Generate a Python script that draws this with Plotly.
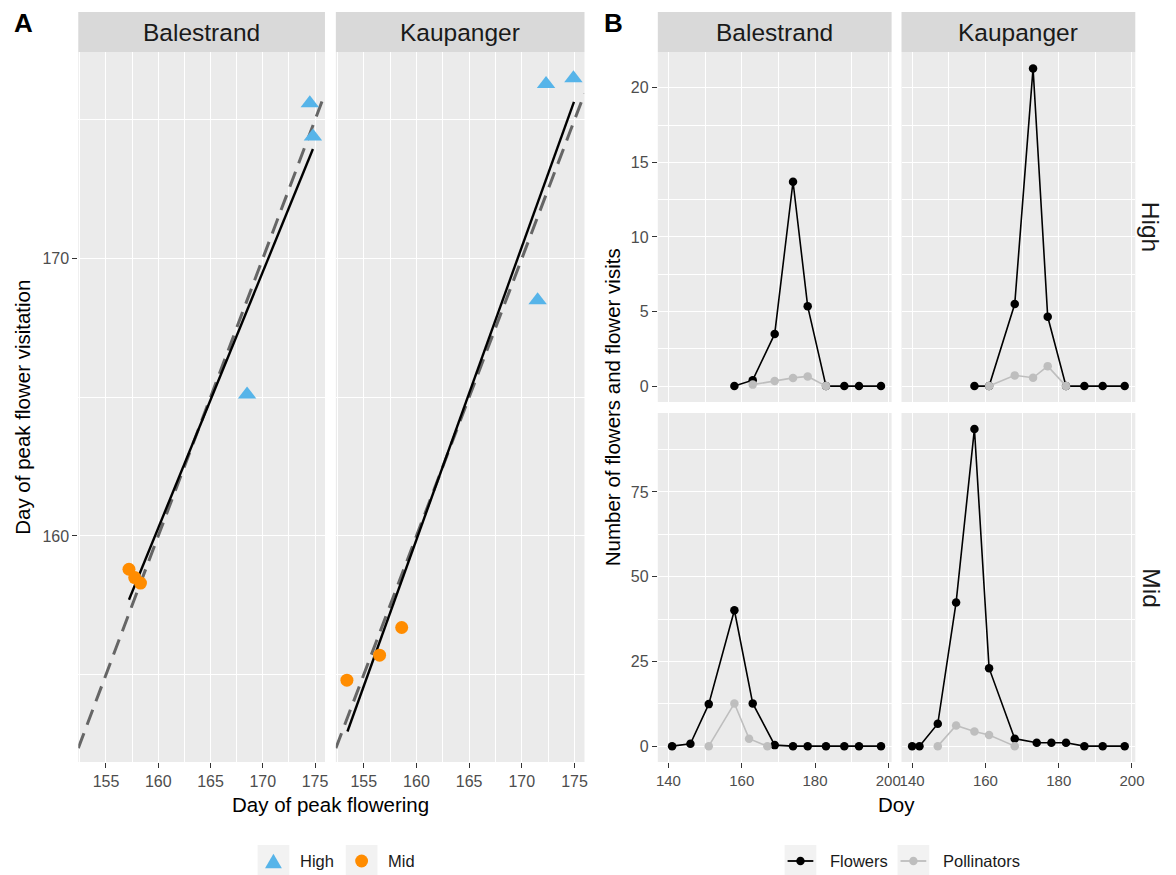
import plotly.graph_objects as go

# ---------------- data ----------------
# Panel A: day of peak flowering vs day of peak flower visitation
a_bal_high_x = [174.5, 174.8, 168.5]
a_bal_high_y = [175.6, 174.4, 165.1]
a_bal_mid_x = [157.2, 157.75, 158.3]
a_bal_mid_y = [158.8, 158.5, 158.3]
a_kau_high_x = [172.3, 174.9, 171.5]
a_kau_high_y = [176.3, 176.5, 168.5]
a_kau_mid_x = [153.4, 156.5, 158.6]
a_kau_mid_y = [154.8, 155.7, 156.7]
# fitted regression lines (endpoints)
a_bal_fit_x = [157.2, 174.8]
a_bal_fit_y = [157.7, 173.95]
a_kau_fit_x = [153.45, 174.95]
a_kau_fit_y = [152.95, 175.65]

# Panel B: number of flowers and flower visits per day
b_bal_high_fl_x = [158, 163, 169, 174, 178, 183, 188, 192, 198]
b_bal_high_fl_y = [0, 0.4, 3.5, 13.7, 5.35, 0, 0, 0, 0]
b_bal_high_po_x = [163, 169, 174, 178, 183]
b_bal_high_po_y = [0.1, 0.35, 0.55, 0.65, 0]
b_kau_high_fl_x = [157, 161, 168, 173, 177, 182, 187, 192, 198]
b_kau_high_fl_y = [0, 0, 5.5, 21.3, 4.65, 0, 0, 0, 0]
b_kau_high_po_x = [161, 168, 173, 177, 182]
b_kau_high_po_y = [0, 0.72, 0.56, 1.34, 0]
b_bal_mid_fl_x = [141, 146, 151, 158, 163, 169, 174, 178, 183, 188, 192, 198]
b_bal_mid_fl_y = [0, 0.7, 12.4, 40.1, 12.6, 0.3, 0, 0, 0, 0, 0, 0]
b_bal_mid_po_x = [151, 158, 162, 167]
b_bal_mid_po_y = [0, 12.6, 2.2, 0]
b_kau_mid_fl_x = [140, 142, 147, 152, 157, 161, 168, 174, 178, 182, 187, 192, 198]
b_kau_mid_fl_y = [0, 0, 6.6, 42.4, 93.6, 23.0, 2.2, 1.0, 1.0, 1.0, 0, 0, 0]
b_kau_mid_po_x = [147, 152, 157, 161, 168]
b_kau_mid_po_y = [0, 6.1, 4.3, 3.3, 0]

sites = ["Balestrand", "Kaupanger"]
rows = ["High", "Mid"]
a_x_ticks = [155, 160, 165, 170, 175]
a_x_minor = [152.5, 157.5, 162.5, 167.5, 172.5]
a_y_ticks = [160, 170]
a_y_minor = [155, 165, 175]
b_x_ticks = [140, 160, 180, 200]
b_x_minor = [150, 170, 190]
b_high_ticks = [0, 5, 10, 15, 20]
b_high_minor = [2.5, 7.5, 12.5, 17.5, 22.5]
b_mid_ticks = [0, 25, 50, 75]
b_mid_minor = [12.5, 37.5, 62.5, 87.5]

# ---------------- styling / layout ----------------
W, H = 1176, 875
FONT = "Liberation Sans, Arial, Helvetica, sans-serif"
BLUE = "#56B4E9"
ORANGE = "#FF8C00"
GREY_PT = "#BEBEBE"
PANEL_BG = "#EBEBEB"
STRIP_BG = "#D9D9D9"

A_XRANGE = [152.35, 175.95]
A_YRANGE = [151.85, 177.45]
B_XRANGE = [137.1, 200.9]
B_HIGH_RANGE = [-1.065, 22.4]
B_MID_RANGE = [-4.68, 98.3]


def fx(p):
    return p / W


def fy(p):
    return 1 - p / H


A_BAL_X = (77, 326)
A_KAU_X = (337, 588)
A_Y = (52, 762)
B_BAL_X = (662, 898)
B_KAU_X = (908, 1144)
B_HIGH_Y = (52, 402)
B_MID_Y = (413, 762)


def xdom(d):
    return [fx(d[0]), fx(d[1])]


def ydom(d):
    return [fy(d[1]), fy(d[0])]


def axis(dom, rng, anchor, ticks, minor, labels, fsize=16):
    return dict(
        domain=dom, range=rng, anchor=anchor,
        tickmode="array", tickvals=ticks,
        showticklabels=labels, ticks="outside" if labels else "",
        ticklen=5, tickwidth=1.1, tickcolor="#333333",
        tickfont=dict(family=FONT, size=fsize, color="#4D4D4D"),
        showgrid=True, gridcolor="white", gridwidth=1.4,
        minor=dict(tickvals=minor, showgrid=True, gridcolor="white", gridwidth=0.7, ticks=""),
        zeroline=False, showline=False, fixedrange=True,
    )


fig = go.Figure()

# ---- Panel A traces ----
a_panels = [
    ("x", "y", a_bal_fit_x, a_bal_fit_y, a_bal_high_x, a_bal_high_y, a_bal_mid_x, a_bal_mid_y),
    ("x2", "y2", a_kau_fit_x, a_kau_fit_y, a_kau_high_x, a_kau_high_y, a_kau_mid_x, a_kau_mid_y),
]
for xa, ya, fxs, fys, hx, hy, mx, my in a_panels:
    # 1:1 reference line across the full panel
    fig.add_trace(go.Scatter(x=A_XRANGE, y=A_XRANGE, xaxis=xa, yaxis=ya, mode="lines",
                             line=dict(color="#666666", width=3, dash="16px,9px"),
                             showlegend=False, hoverinfo="skip"))
    fig.add_trace(go.Scatter(x=fxs, y=fys, xaxis=xa, yaxis=ya, mode="lines",
                             line=dict(color="black", width=2.4), showlegend=False))
    fig.add_trace(go.Scatter(x=hx, y=hy, xaxis=xa, yaxis=ya, mode="markers",
                             marker=dict(symbol="triangle-up", size=16, color=BLUE, line=dict(width=0)),
                             showlegend=False, name="High"))
    fig.add_trace(go.Scatter(x=mx, y=my, xaxis=xa, yaxis=ya, mode="markers",
                             marker=dict(symbol="circle", size=13, color=ORANGE, line=dict(width=0)),
                             showlegend=False, name="Mid"))

# ---- Panel B traces ----
b_panels = [
    ("x3", "y3", b_bal_high_fl_x, b_bal_high_fl_y, b_bal_high_po_x, b_bal_high_po_y),
    ("x4", "y4", b_kau_high_fl_x, b_kau_high_fl_y, b_kau_high_po_x, b_kau_high_po_y),
    ("x5", "y5", b_bal_mid_fl_x, b_bal_mid_fl_y, b_bal_mid_po_x, b_bal_mid_po_y),
    ("x6", "y6", b_kau_mid_fl_x, b_kau_mid_fl_y, b_kau_mid_po_x, b_kau_mid_po_y),
]
for xa, ya, flx, fly, pox, poy in b_panels:
    fig.add_trace(go.Scatter(x=flx, y=fly, xaxis=xa, yaxis=ya, mode="lines+markers",
                             line=dict(color="black", width=1.6),
                             marker=dict(size=8.5, color="black"), showlegend=False, name="Flowers"))
    fig.add_trace(go.Scatter(x=pox, y=poy, xaxis=xa, yaxis=ya, mode="lines+markers",
                             line=dict(color=GREY_PT, width=1.6),
                             marker=dict(size=8.5, color=GREY_PT), showlegend=False, name="Pollinators"))

layout = dict(
    width=W, height=H, margin=dict(l=0, r=0, t=0, b=0),
    paper_bgcolor="white", plot_bgcolor=PANEL_BG,
    font=dict(family=FONT, color="black"),
    xaxis=axis(xdom(A_BAL_X), A_XRANGE, "y", a_x_ticks, a_x_minor, True),
    yaxis=axis(ydom(A_Y), A_YRANGE, "x", a_y_ticks, a_y_minor, True),
    xaxis2=axis(xdom(A_KAU_X), A_XRANGE, "y2", a_x_ticks, a_x_minor, True),
    yaxis2=axis(ydom(A_Y), A_YRANGE, "x2", a_y_ticks, a_y_minor, False),
    xaxis3=axis(xdom(B_BAL_X), B_XRANGE, "y3", b_x_ticks, b_x_minor, False),
    yaxis3=axis(ydom(B_HIGH_Y), B_HIGH_RANGE, "x3", b_high_ticks, b_high_minor, True),
    xaxis4=axis(xdom(B_KAU_X), B_XRANGE, "y4", b_x_ticks, b_x_minor, False),
    yaxis4=axis(ydom(B_HIGH_Y), B_HIGH_RANGE, "x4", b_high_ticks, b_high_minor, False),
    xaxis5=axis(xdom(B_BAL_X), B_XRANGE, "y5", b_x_ticks, b_x_minor, True, 15),
    yaxis5=axis(ydom(B_MID_Y), B_MID_RANGE, "x5", b_mid_ticks, b_mid_minor, True),
    xaxis6=axis(xdom(B_KAU_X), B_XRANGE, "y6", b_x_ticks, b_x_minor, True, 15),
    yaxis6=axis(ydom(B_MID_Y), B_MID_RANGE, "x6", b_mid_ticks, b_mid_minor, False),
    showlegend=False,
)
fig.update_layout(**layout)

shapes = []
ann = []

# strips (column facets)
for (x0, x1), label in [(A_BAL_X, sites[0]), (A_KAU_X, sites[1]), (B_BAL_X, sites[0]), (B_KAU_X, sites[1])]:
    shapes.append(dict(type="rect", xref="paper", yref="paper", x0=fx(x0), x1=fx(x1),
                       y0=fy(52), y1=fy(12), fillcolor=STRIP_BG, line=dict(width=0), layer="below"))
    ann.append(dict(text=label, xref="paper", yref="paper", x=fx((x0 + x1) / 2), y=fy(32),
                    showarrow=False, xanchor="center", yanchor="middle",
                    font=dict(size=24.5, color="#1A1A1A", family=FONT)))

# row strips (right side of B)
for (y0, y1), label in [(B_HIGH_Y, rows[0]), (B_MID_Y, rows[1])]:
    ann.append(dict(text=label, xref="paper", yref="paper", x=fx(1160), y=fy((y0 + y1) / 2),
                    showarrow=False, xanchor="center", yanchor="middle", textangle=90,
                    font=dict(size=24.5, color="#1A1A1A", family=FONT)))

# panel tags
for tag, px in [("A", 22), ("B", 617)]:
    ann.append(dict(text="<b>%s</b>" % tag, xref="paper", yref="paper", x=fx(px), y=fy(23),
                    showarrow=False, xanchor="center", yanchor="middle",
                    font=dict(size=26, color="black", family=FONT)))

# axis titles
ann.append(dict(text="Day of peak flower visitation", xref="paper", yref="paper", x=fx(21), y=fy(407),
                showarrow=False, textangle=-90, xanchor="center", yanchor="middle",
                font=dict(size=20.5, color="black", family=FONT)))
ann.append(dict(text="Number of flowers and flower visits", xref="paper", yref="paper", x=fx(617), y=fy(407),
                showarrow=False, textangle=-90, xanchor="center", yanchor="middle",
                font=dict(size=20.5, color="black", family=FONT)))
ann.append(dict(text="Day of peak flowering", xref="paper", yref="paper", x=fx(332), y=fy(804),
                showarrow=False, xanchor="center", yanchor="middle",
                font=dict(size=20.5, color="black", family=FONT)))
ann.append(dict(text="Doy", xref="paper", yref="paper", x=fx(903), y=fy(804),
                showarrow=False, xanchor="center", yanchor="middle",
                font=dict(size=20.5, color="black", family=FONT)))

# ---- legends (drawn as ggplot-style keys) ----
LEG_Y = 861
KEY = 32


def key_box(xl):
    shapes.append(dict(type="rect", xref="paper", yref="paper", x0=fx(xl), x1=fx(xl + KEY),
                       y0=fy(LEG_Y + KEY / 2), y1=fy(LEG_Y - KEY / 2),
                       fillcolor="#F2F2F2", line=dict(width=0)))


def leg_text(xl, text):
    ann.append(dict(text=text, xref="paper", yref="paper", x=fx(xl), y=fy(LEG_Y),
                    showarrow=False, xanchor="left", yanchor="middle",
                    font=dict(size=16.5, color="#1A1A1A", family=FONT)))


# Legend A
key_box(258)
cx, tw, th = 274, 17, 14.5
shapes.append(dict(type="path", xref="paper", yref="paper",
                   path="M %f,%f L %f,%f L %f,%f Z" % (fx(cx - tw / 2), fy(LEG_Y + th / 2),
                                                       fx(cx + tw / 2), fy(LEG_Y + th / 2),
                                                       fx(cx), fy(LEG_Y - th / 2)),
                   fillcolor=BLUE, line=dict(width=0)))
leg_text(299, "High")
key_box(347)
r = 6.5
shapes.append(dict(type="circle", xref="paper", yref="paper", x0=fx(363 - r), x1=fx(363 + r),
                   y0=fy(LEG_Y + r), y1=fy(LEG_Y - r), fillcolor=ORANGE, line=dict(width=0)))
leg_text(388, "Mid")

# Legend B
for xl, col, text in [(790, "black", "Flowers"), (904, GREY_PT, "Pollinators")]:
    key_box(xl)
    shapes.append(dict(type="line", xref="paper", yref="paper", x0=fx(xl + 3), x1=fx(xl + KEY - 3),
                       y0=fy(LEG_Y), y1=fy(LEG_Y), line=dict(color=col, width=1.8)))
    r = 4.25
    c = xl + KEY / 2
    shapes.append(dict(type="circle", xref="paper", yref="paper", x0=fx(c - r), x1=fx(c + r),
                       y0=fy(LEG_Y + r), y1=fy(LEG_Y - r), fillcolor=col, line=dict(width=0)))
    leg_text(xl + 44, text)

fig.update_layout(shapes=shapes, annotations=ann)
fig.write_html("out.html")
